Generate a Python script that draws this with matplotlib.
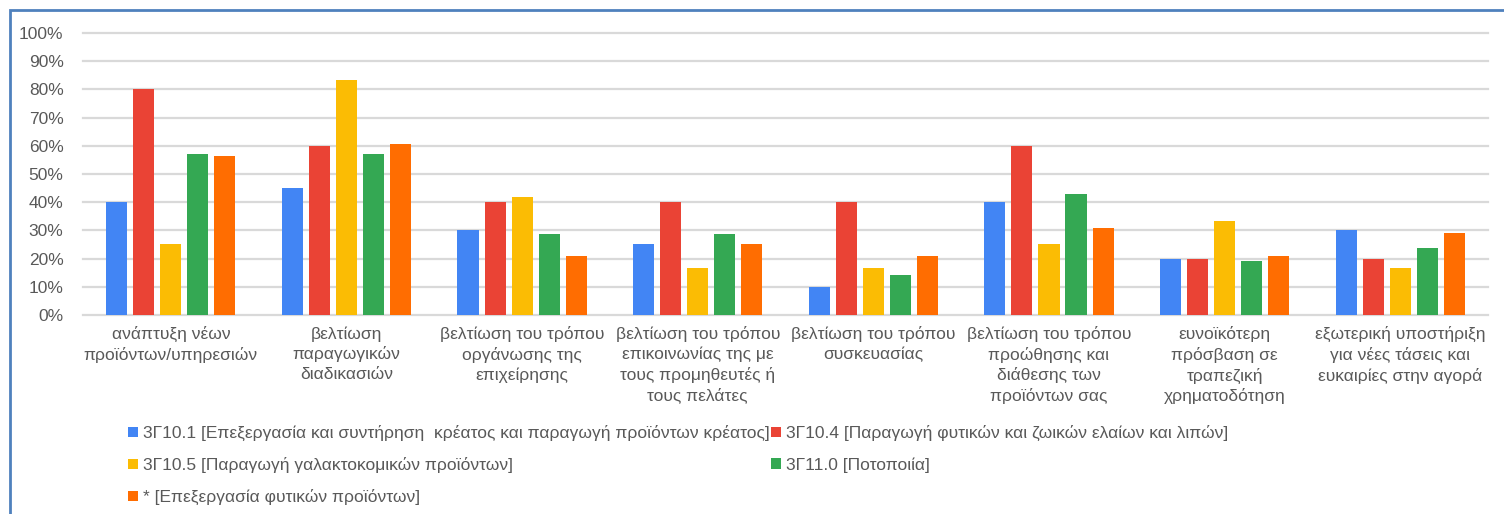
import matplotlib
matplotlib.use("Agg")
import numpy as np
from matplotlib import pyplot as plt
from matplotlib.patches import Rectangle
from matplotlib.ticker import PercentFormatter

plt.rcParams['font.family'] = ['Liberation Sans Narrow', 'Liberation Sans', 'DejaVu Sans']

# κατηγορίες καινοτομίας
categories = [
    "ανάπτυξη νέων\nπροϊόντων/υπηρεσιών",
    "βελτίωση\nπαραγωγικών\nδιαδικασιών",
    "βελτίωση του τρόπου\nοργάνωσης της\nεπιχείρησης",
    "βελτίωση του τρόπου\nεπικοινωνίας της με\nτους προμηθευτές ή\nτους πελάτες",
    "βελτίωση του τρόπου\nσυσκευασίας",
    "βελτίωση του τρόπου\nπροώθησης και\nδιάθεσης των\nπροϊόντων σας",
    "ευνοϊκότερη\nπρόσβαση σε\nτραπεζική\nχρηματοδότηση",
    "εξωτερική υποστήριξη\nγια νέες τάσεις και\nευκαιρίες στην αγορά",
]

# ποσοστά ανά κλάδο
g10_1 = [40.0, 45.0, 30.0, 25.0, 10.0, 40.0, 20.0, 30.0]
g10_4 = [80.0, 60.0, 40.0, 40.0, 40.0, 60.0, 20.0, 20.0]
g10_5 = [25.0, 83.3, 41.7, 16.7, 16.7, 25.0, 33.3, 16.7]
g11_0 = [57.1, 57.1, 28.6, 28.6, 14.3, 42.9, 19.0, 23.8]
other = [56.3, 60.5, 20.8, 25.0, 20.8, 31.0, 20.8, 29.2]

series_names = [
    "3Γ10.1 [Επεξεργασία και συντήρηση  κρέατος και παραγωγή προϊόντων κρέατος]",
    "3Γ10.4 [Παραγωγή φυτικών και ζωικών ελαίων και λιπών]",
    "3Γ10.5 [Παραγωγή γαλακτοκομικών προϊόντων]",
    "3Γ11.0 [Ποτοποιία]",
    "* [Επεξεργασία φυτικών προϊόντων]",
]
series = [g10_1, g10_4, g10_5, g11_0, other]
colors = ["#4285f4", "#ea4335", "#fbbc04", "#34a853", "#ff6d01"]

fig = plt.figure(figsize=(15.04, 5.14), dpi=100)
ax = fig.add_axes([0.0552, 0.3872, 0.9342, 0.5486])

x = np.arange(len(categories))
step = 0.154
width = 0.12
bars = []
for i, (vals, col, name) in enumerate(zip(series, colors, series_names)):
    b = ax.bar(x + (i - 2) * step, np.array(vals) / 100, width=width,
               color=col, label=name, zorder=3, linewidth=0)
    bars.append(b)

ax.set_xlim(-0.5, len(categories) - 0.5)
ax.set_ylim(0, 1.0)
ax.set_yticks(np.arange(0, 1.01, 0.1))
ax.yaxis.set_major_formatter(PercentFormatter(1.0, decimals=0))
ax.yaxis.grid(True, color="#d9d9d9", linewidth=1.6, zorder=0)
for gl in ax.get_ygridlines():
    gl.set_clip_on(False)
for s in ax.spines.values():
    s.set_visible(False)
ax.tick_params(axis="y", length=0, pad=14, labelsize=12.5, labelcolor="#595959")
ax.tick_params(axis="x", length=0, pad=8, labelsize=12.5, labelcolor="#595959")
ax.set_xticks(x)
ax.set_xticklabels(categories, linespacing=1.36)

# υπόμνημα σε δύο στήλες
order = [0, 2, 4, 1, 3]
handles = [bars[k] for k in order]
labels = [series_names[k] for k in order]
fig.legend(handles, labels, loc="upper left", bbox_to_anchor=(128 / 1504, 1 - 425 / 514),
           ncol=2, frameon=False, fontsize=12.5, labelcolor="#595959",
           handlelength=0.55, handleheight=0.55, handletextpad=0.3,
           columnspacing=0.1, labelspacing=0.92, borderpad=0, borderaxespad=0)

# πλαίσιο γραφήματος
fig.patches.append(Rectangle((10 / 1504, -0.2), 1.2, 1.2 - 10 / 514,
                             transform=fig.transFigure, fill=False,
                             edgecolor="#4f81bd", linewidth=2))

fig.savefig("out.png", dpi=100)
